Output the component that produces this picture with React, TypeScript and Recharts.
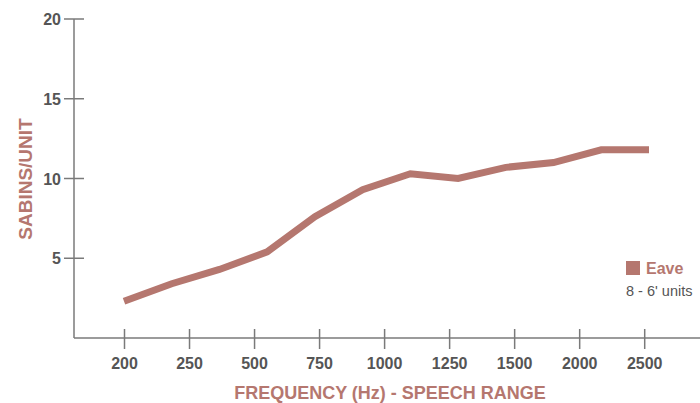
import React from 'react';
import { LineChart, Line, XAxis, YAxis } from 'recharts';

// 1/3-octave bands, plotted evenly spaced
const bands = ['200', '250', '315', '400', '500', '630', '800', '1000', '1250', '1600', '2000', '2500'];
const sabins = [2.3, 3.4, 4.3, 5.4, 7.6, 9.3, 10.3, 10.0, 10.7, 11.0, 11.8, 11.8];

// labels printed under the axis (spaced on their own)
const freqLabels = ['200', '250', '500', '750', '1000', '1250', '1500', '2000', '2500'];
const yTicks = [5, 10, 15, 20];

const data = bands.map((f, i) => ({ freq: f, eave: sabins[i] }));
const labelRows = freqLabels.map((l) => ({ lab: l }));

const ROSE = '#b5776f';
const AXIS = '#7a7a7a';
const TEXT = '#555555';
const FONT = '"Liberation Sans", Arial, Helvetica, sans-serif';

const XTick = (props: any) => {
  const { x, y, payload } = props;
  return (
    <g>
      <line x1={x} x2={x} y1={y - 9} y2={y + 11} stroke={AXIS} strokeWidth={1.5} />
      <text x={x} y={y + 31} textAnchor="middle" fill={TEXT} fontSize={16} fontWeight="bold" fontFamily={FONT}>
        {payload.value}
      </text>
    </g>
  );
};

const YTick = (props: any) => {
  const { x, y, payload } = props;
  return (
    <g>
      <line x1={x - 10} x2={x + 10} y1={y} y2={y} stroke={AXIS} strokeWidth={1.5} />
      <text x={x - 13} y={y + 6} textAnchor="end" fill={TEXT} fontSize={16} fontWeight="bold" fontFamily={FONT}>
        {payload.value}
      </text>
    </g>
  );
};

export default function App() {
  return (
    <div style={{ position: 'absolute', left: 0, top: 0, width: 700, height: 403, fontFamily: FONT }}>
      <LineChart width={700} height={403} data={data} margin={{ top: 19, right: 0, bottom: 0, left: 0 }}>
        <XAxis xAxisId="pts" dataKey="freq" hide padding={{ left: 50, right: 51 }} />
        <XAxis
          xAxisId="lab"
          dataKey="lab"
          interval={0}
          height={65}
          padding={{ left: 50.5, right: 55.3 }}
          tickSize={0}
          tickMargin={0}
          tickLine={false}
          tick={<XTick />}
          axisLine={{ stroke: AXIS, strokeWidth: 1.5 }}
          label={{
            content: () => (
              <text x={390} y={399} textAnchor="middle" fill={ROSE} fontSize={18} fontWeight="bold" fontFamily={FONT}>
                FREQUENCY (Hz) - SPEECH RANGE
              </text>
            ),
          }}
        />
        <YAxis
          domain={[0, 20]}
          ticks={yTicks}
          width={74}
          tickSize={0}
          tickMargin={0}
          tickLine={false}
          tick={<YTick />}
          axisLine={{ stroke: AXIS, strokeWidth: 1.5 }}
          label={{
            content: () => (
              <text
                x={32}
                y={179}
                transform="rotate(-90 32 179)"
                textAnchor="middle"
                fill={ROSE}
                fontSize={19}
                fontWeight="bold"
                fontFamily={FONT}
              >
                SABINS/UNIT
              </text>
            ),
          }}
        />
        {/* carries the printed frequency labels for the visible axis, draws nothing */}
        <Line
          xAxisId="lab"
          data={labelRows}
          dataKey="none"
          stroke="none"
          dot={false}
          activeDot={false}
          legendType="none"
          isAnimationActive={false}
        />
        <Line
          xAxisId="pts"
          dataKey="eave"
          name="Eave"
          stroke={ROSE}
          strokeWidth={7}
          strokeLinejoin="miter"
          dot={false}
          activeDot={false}
          type="linear"
          isAnimationActive={false}
        />
      </LineChart>
      <div style={{ position: 'absolute', left: 626, top: 261, width: 14, height: 13.5, background: ROSE }} />
      <div
        style={{
          position: 'absolute',
          left: 646,
          top: 260.5,
          fontSize: 16,
          lineHeight: '16px',
          fontWeight: 'bold',
          color: ROSE,
          whiteSpace: 'nowrap',
        }}
      >
        Eave
      </div>
      <div
        style={{
          position: 'absolute',
          left: 626,
          top: 283.7,
          fontSize: 14.5,
          lineHeight: '14.5px',
          color: TEXT,
          whiteSpace: 'nowrap',
        }}
      >
        8 - 6' units
      </div>
    </div>
  );
}
